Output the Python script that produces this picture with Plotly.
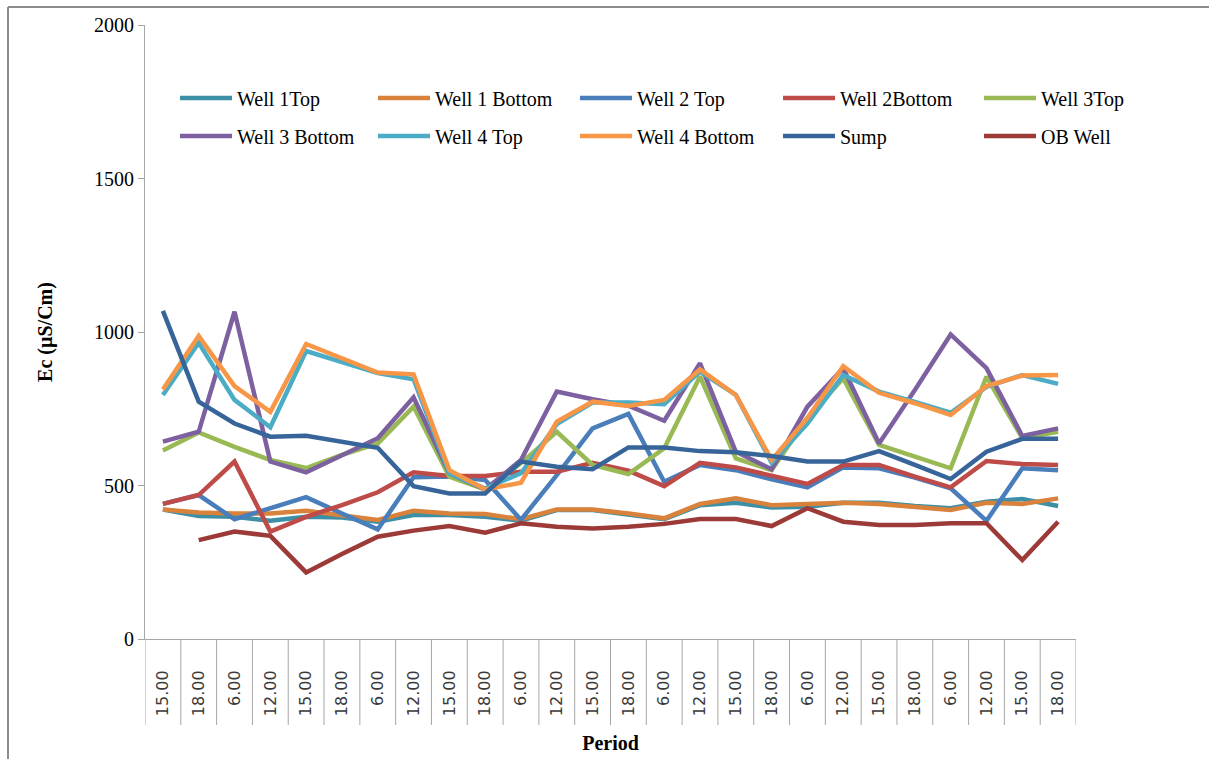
import plotly.graph_objects as go

periods = ["15.00", "18.00", "6.00", "12.00", "15.00", "18.00", "6.00", "12.00", "15.00",
           "18.00", "6.00", "12.00", "15.00", "18.00", "6.00", "12.00", "15.00", "18.00",
           "6.00", "12.00", "15.00", "18.00", "6.00", "12.00", "15.00", "18.00"]

well1_top = [422, 401, 398, 385, 398, 396, 382, 404, 404, 398, 385, 420, 420, 404, 390, 436,
             444, 428, 431, 444, 444, 433, 426, 447, 456, 433]
well1_bottom = [422, 412, 409, 409, 418, 404, 388, 418, 409, 407, 390, 422, 422, 409, 393, 440,
                458, 436, 440, 444, 440, 431, 420, 444, 440, 458]
well2_top = [440, 469, 390, 426, 462, 409, 357, 527, 529, 518, 388, 534, 686, 733, 512, 567,
             550, 520, 494, 559, 556, 526, 491, 385, 556, 550]
well2_bottom = [440, 469, 578, 350, 398, 436, 478, 543, 531, 531, 545, 545, 574, 548, 498, 574,
                559, 531, 505, 567, 567, 529, 494, 580, 570, 567]
well3_top = [614, 673, 626, 583, 557, 600, 637, 757, 529, 487, 573, 675, 567, 537, 621, 855,
             588, 550, 720, 849, 632, 594, 556, 855, 654, 675]
well3_bottom = [643, 675, 1066, 578, 543, 599, 654, 787, 540, 487, 583, 806, 781, 760, 711, 898,
                610, 553, 757, 882, 637, 811, 992, 882, 661, 686]
well4_top = [795, 965, 779, 690, 938, 903, 866, 846, 540, 490, 540, 700, 770, 770, 765, 871,
             795, 574, 702, 860, 806, 772, 737, 821, 860, 831]
well4_bottom = [813, 987, 824, 740, 961, 914, 868, 862, 550, 487, 509, 708, 773, 759, 779, 878,
                795, 583, 720, 889, 802, 768, 730, 824, 858, 860]
sump = [1069, 773, 702, 659, 662, 642, 623, 498, 474, 474, 578, 561, 553, 624, 624, 612,
        608, 596, 578, 578, 612, 567, 521, 610, 652, 652]
ob_well = [None, 322, 350, 336, 217, 277, 333, 353, 368, 346, 377, 366, 360, 366, 375, 391,
           391, 368, 426, 382, 371, 371, 377, 377, 257, 382]

series_names = ["Well 1Top", "Well 1 Bottom", "Well 2 Top", "Well 2Bottom", "Well 3Top",
                "Well 3 Bottom", "Well 4 Top", "Well 4 Bottom", "Sump", "OB Well"]
series_values = [well1_top, well1_bottom, well2_top, well2_bottom, well3_top,
                 well3_bottom, well4_top, well4_bottom, sump, ob_well]
colors = ["#3D8FA5", "#D9823B", "#4A7EBB", "#BE4B48", "#98B954",
          "#7D60A0", "#4BACC6", "#F79646", "#37659A", "#9C3A38"]

SERIF = "Liberation Serif, Times New Roman, serif"
x_idx = list(range(len(periods)))

fig = go.Figure()
legend_ids = ["legend", "legend2", "legend3", "legend4", "legend5"]
for i, (name, vals, col) in enumerate(zip(series_names, series_values, colors)):
    fig.add_trace(go.Scatter(
        x=x_idx, y=vals, name=name, mode="lines",
        line=dict(color=col, width=4.5),
        legend=legend_ids[i % 5], legendgroup=name,
    ))

# legend columns (left edge in paper coords)
L, W = 145, 931
col_text_px = [237, 435, 637, 840, 1041]
item_w = 52
legend_common = dict(
    orientation="v", xanchor="left", yanchor="top", y=0.913,
    font=dict(family=SERIF, size=20, color="#000"),
    bgcolor="rgba(0,0,0,0)", borderwidth=0, itemwidth=item_w,
    traceorder="grouped", tracegroupgap=9,
)
legends = {}
for k, lid in enumerate(legend_ids):
    left_px = col_text_px[k] - (item_w + 10)
    legends[lid] = dict(legend_common, x=(left_px - L) / W)

# category dividers on the x axis
shapes = []
for i in range(len(periods) + 1):
    shapes.append(dict(type="line", xref="x", yref="paper", x0=i - 0.5, x1=i - 0.5,
                       y0=0, y1=-0.14, line=dict(color="#A6A6A6", width=1)))
# chart border (left and top edges visible)
shapes.append(dict(type="line", xref="paper", yref="paper", x0=(8 - L) / W, x1=(8 - L) / W,
                   y0=(639 - 7) / 614, y1=(639 - 800) / 614, line=dict(color="#8C8C8C", width=2)))
shapes.append(dict(type="line", xref="paper", yref="paper", x0=(8 - L) / W, x1=(1250 - L) / W,
                   y0=(639 - 7) / 614, y1=(639 - 7) / 614, line=dict(color="#8C8C8C", width=2)))

fig.update_layout(
    width=1209, height=759,
    margin=dict(l=145, r=133, t=25, b=120),
    paper_bgcolor="white", plot_bgcolor="white",
    showlegend=True,
    shapes=shapes,
    xaxis=dict(
        range=[-0.5, len(periods) - 0.5], automargin=False,
        tickmode="array", tickvals=x_idx, ticktext=periods,
        tickangle=-90, ticks="outside", ticklen=24, tickcolor="rgba(0,0,0,0)",
        tickfont=dict(family="DejaVu Sans, sans-serif", size=16, color="#3A3A3A"),
        showline=True, linecolor="#A6A6A6", linewidth=1,
        showgrid=False, zeroline=False,
        title=dict(text="<b>Period</b>", font=dict(family=SERIF, size=20, color="#000"),
                   standoff=20),
    ),
    yaxis=dict(
        range=[0, 2000], tickvals=[0, 500, 1000, 1500, 2000], automargin=False,
        ticks="outside", ticklen=6, tickcolor="#A6A6A6",
        tickfont=dict(family=SERIF, size=20, color="#000"),
        showline=True, linecolor="#A6A6A6", linewidth=1,
        showgrid=False, zeroline=False,
        title=dict(text="<b>Ec (µS/Cm)</b>", font=dict(family=SERIF, size=20, color="#000"),
                   standoff=36),
    ),
    **legends,
)

fig.write_html("out.html")
